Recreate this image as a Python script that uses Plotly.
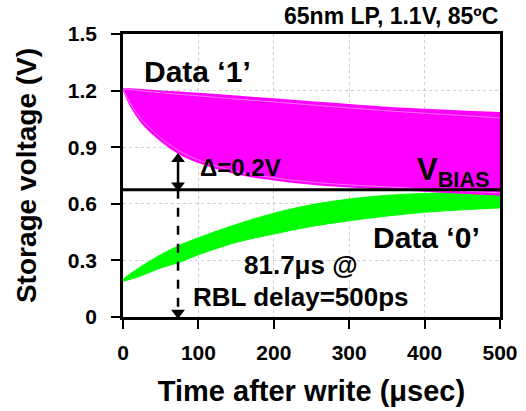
import plotly.graph_objects as go

# ---- data ----
t = [0, 10, 25, 50, 75, 100, 150, 200, 250, 300, 350, 400, 450, 500]
mag_top = [1.21, 1.208, 1.204, 1.197, 1.191, 1.185, 1.170, 1.155, 1.140, 1.125, 1.110, 1.100, 1.091, 1.083]
mag_top_inner = [1.21, 1.205, 1.199, 1.189, 1.180, 1.172, 1.155, 1.140, 1.124, 1.108, 1.093, 1.080, 1.068, 1.055]
mag_bot_inner = [1.21, 1.13, 1.045, 0.950, 0.880, 0.833, 0.772, 0.738, 0.715, 0.700, 0.690, 0.679, 0.668, 0.658]
mag_bot = [1.21, 1.12, 1.030, 0.935, 0.865, 0.820, 0.760, 0.728, 0.705, 0.690, 0.680, 0.668, 0.657, 0.647]
grn_top = [0.20, 0.23, 0.27, 0.33, 0.38, 0.42, 0.49, 0.55, 0.595, 0.625, 0.645, 0.655, 0.660, 0.662]
grn_bot = [0.19, 0.20, 0.22, 0.26, 0.29, 0.33, 0.395, 0.44, 0.48, 0.51, 0.535, 0.555, 0.568, 0.578]
vbias = 0.675
arrow_t = 73
delta_top = 0.86

x_ticks = [0, 100, 200, 300, 400, 500]
y_ticks = [0, 0.3, 0.6, 0.9, 1.2, 1.5]
y_tick_text = ["0", "0.3", "0.6", "0.9", "1.2", "1.5"]

MAG = "#FF00FF"
GRN = "#00FF00"
FONT = "Liberation Sans, Arial, sans-serif"

fig = go.Figure()

# green band (Data '0')
fig.add_trace(go.Scatter(x=t, y=grn_bot, mode="lines", line=dict(color=GRN, width=1, shape="spline"),
                         showlegend=False, hoverinfo="skip"))
fig.add_trace(go.Scatter(x=t, y=grn_top, mode="lines", line=dict(color=GRN, width=1, shape="spline"),
                         fill="tonexty", fillcolor=GRN, showlegend=False, hoverinfo="skip"))

# magenta band (Data '1')
fig.add_trace(go.Scatter(x=t, y=mag_bot, mode="lines", line=dict(color=MAG, width=1.5, shape="spline"),
                         showlegend=False, hoverinfo="skip"))
fig.add_trace(go.Scatter(x=t, y=mag_top, mode="lines", line=dict(color=MAG, width=1.5, shape="spline"),
                         fill="tonexty", fillcolor=MAG, showlegend=False, hoverinfo="skip"))
for arr in (mag_bot_inner, mag_top_inner):
    fig.add_trace(go.Scatter(x=t, y=arr, mode="lines", line=dict(color="#FF8CFF", width=0.8, shape="spline"),
                             showlegend=False, hoverinfo="skip"))

# VBIAS line
fig.add_trace(go.Scatter(x=[x_ticks[0], x_ticks[-1]], y=[vbias, vbias], mode="lines",
                         line=dict(color="black", width=3), showlegend=False, hoverinfo="skip"))

# delta double arrow (solid)
fig.add_trace(go.Scatter(x=[arrow_t, arrow_t], y=[vbias + 0.03, delta_top - 0.03], mode="lines",
                         line=dict(color="black", width=2.5), showlegend=False, hoverinfo="skip"))
fig.add_trace(go.Scatter(x=[arrow_t, arrow_t], y=[delta_top - 0.022, vbias + 0.022], mode="markers",
                         marker=dict(symbol=["triangle-up", "triangle-down"], size=12, color="black"),
                         showlegend=False, hoverinfo="skip"))
# dashed arrow down to 0
fig.add_trace(go.Scatter(x=[arrow_t, arrow_t], y=[vbias, 0.04], mode="lines",
                         line=dict(color="black", width=2.5, dash="dash"), showlegend=False, hoverinfo="skip"))
fig.add_trace(go.Scatter(x=[arrow_t], y=[0.022], mode="markers",
                         marker=dict(symbol="triangle-down", size=12, color="black"),
                         showlegend=False, hoverinfo="skip"))

annotations = [
    dict(x=1, y=1.012, xref="paper", yref="paper", xanchor="right", yanchor="bottom",
         text="<b>65nm LP, 1.1V, 85ºC</b>", showarrow=False, font=dict(size=23, color="black", family=FONT)),
    dict(x=25, y=1.30, xref="x", yref="y", xanchor="left", yanchor="middle",
         text="<b>Data ‘1’</b>", showarrow=False, font=dict(size=30, color="black", family=FONT)),
    dict(x=99, y=0.795, xref="x", yref="y", xanchor="left", yanchor="middle",
         text="<b>Δ=0.2V</b>", showarrow=False, font=dict(size=24, color="black", family=FONT)),
    dict(x=489, y=0.77, xref="x", yref="y", xanchor="right", yanchor="middle",
         text="<b>V<sub>BIAS</sub></b>", showarrow=False, font=dict(size=31, color="black", family=FONT)),
    dict(x=476, y=0.42, xref="x", yref="y", xanchor="right", yanchor="middle",
         text="<b>Data ‘0’</b>", showarrow=False, font=dict(size=30, color="black", family=FONT)),
    dict(x=158, y=0.276, xref="x", yref="y", xanchor="left", yanchor="middle",
         text="<b>81.7μs @</b>", showarrow=False, font=dict(size=26, color="black", family=FONT)),
    dict(x=90, y=0.106, xref="x", yref="y", xanchor="left", yanchor="middle",
         text="<b>RBL delay=500ps</b>", showarrow=False, font=dict(size=26, color="black", family=FONT)),
]

fig.update_layout(
    width=526, height=411,
    margin=dict(l=123, r=26, t=34, b=94),
    paper_bgcolor="white", plot_bgcolor="white",
    font=dict(family=FONT, color="black"),
    annotations=annotations,
    showlegend=False,
)
fig.update_xaxes(
    range=[0, 500], tickvals=x_ticks, ticktext=[f"<b>{v}</b>" for v in x_ticks],
    tickfont=dict(size=21, family=FONT, color="black"),
    showline=True, linecolor="black", linewidth=2.5, mirror=True,
    ticks="outside", ticklen=9, tickwidth=2, tickcolor="black", ticklabelstandoff=6,
    showgrid=True, gridcolor="#cfcfcf", gridwidth=1, griddash="dot", zeroline=False,
    title=dict(text="<b>Time after write (μsec)</b>", font=dict(size=29, family=FONT, color="black"), standoff=18),
    automargin=False,
)
fig.update_yaxes(
    range=[0, 1.5], tickvals=y_ticks, ticktext=[f"<b>{s}</b>" for s in y_tick_text],
    tickfont=dict(size=21, family=FONT, color="black"),
    showline=True, linecolor="black", linewidth=2.5, mirror=True,
    ticks="outside", ticklen=9, tickwidth=2, tickcolor="black", ticklabelstandoff=10,
    showgrid=True, gridcolor="#cfcfcf", gridwidth=1, griddash="dot", zeroline=False,
    title=dict(text="<b>Storage voltage (V)</b>", font=dict(size=28, family=FONT, color="black"), standoff=24),
    automargin=False,
)

fig.write_html("out.html", config={"displayModeBar": False},
               post_script="document.body.style.margin='0';")
